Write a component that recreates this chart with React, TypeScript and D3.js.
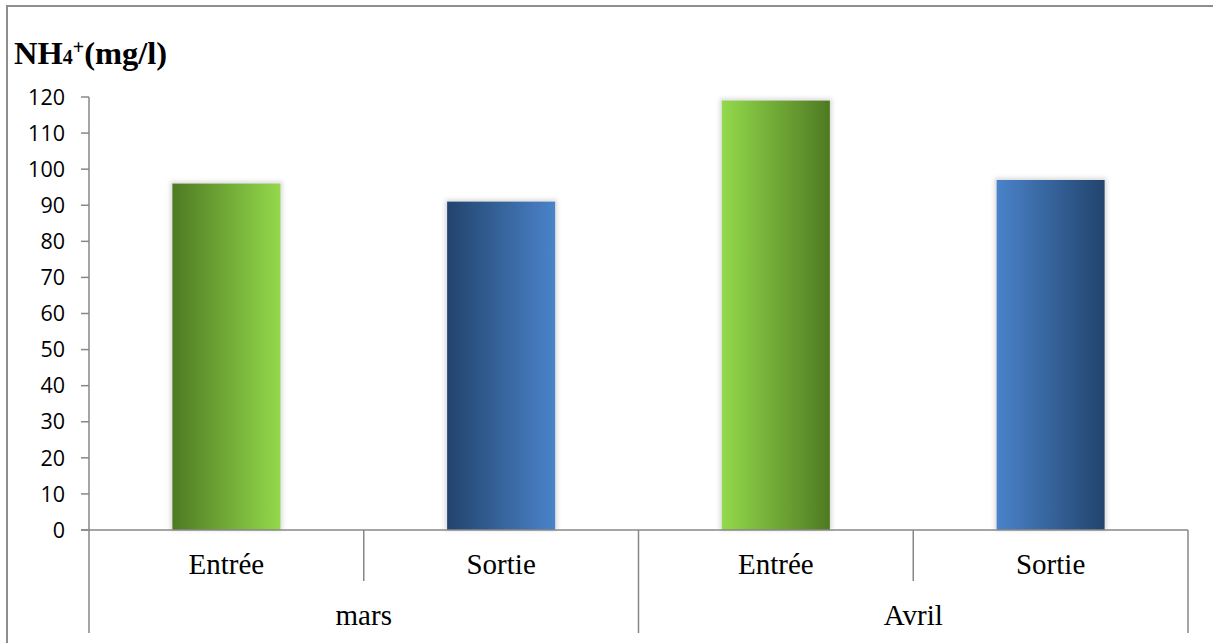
import React from "react";
import * as d3 from "d3";

const months = ["mars", "Avril"];
const seriesNames = ["Entrée", "Sortie"];
const entreeValues = [96, 119];
const sortieValues = [91, 97];
const yTicks = [0, 10, 20, 30, 40, 50, 60, 70, 80, 90, 100, 110, 120];

const W = 1213;
const H = 643;
const X0 = 89;
const X1 = 1188;
const Y0 = 530;
const Y1 = 97;
const AXIS = "#878787";

export default function App() {
  const cats = months.flatMap((m) => seriesNames.map((s) => `${m}|${s}`));
  const rows = months.flatMap((m, i) => [
    { key: `${m}|${seriesNames[0]}`, month: m, mi: i, series: 0, value: entreeValues[i] },
    { key: `${m}|${seriesNames[1]}`, month: m, mi: i, series: 1, value: sortieValues[i] },
  ]);
  const xBand = d3.scaleBand<string>().domain(cats).range([X0, X1]).paddingInner(0.607).paddingOuter(0.3035);
  const xCell = d3.scaleBand<string>().domain(cats).range([X0, X1]).padding(0);
  const xMonth = d3.scaleBand<string>().domain(months).range([X0, X1]).padding(0);
  const y = d3.scaleLinear().domain([0, 120]).range([Y0, Y1]);

  const gradId = (series: number, mi: number) => `g-${series}-${mi}`;
  const colors = [
    { dark: "#4e7a22", light: "#93d94b" },
    { dark: "#22446d", light: "#4a83ca" },
  ];

  return (
    <svg width={W} height={H} style={{ position: "absolute", left: 0, top: 0, background: "#fff" }}>
      <defs>
        {rows.map((r) => {
          const c = colors[r.series];
          const reverse = r.mi === 1;
          return (
            <linearGradient key={r.key} id={gradId(r.series, r.mi)} x1="0" x2="1" y1="0" y2="0">
              <stop offset="0%" stopColor={reverse ? c.light : c.dark} />
              <stop offset="100%" stopColor={reverse ? c.dark : c.light} />
            </linearGradient>
          );
        })}
        <filter id="glow" x="-20%" y="-20%" width="140%" height="140%">
          <feGaussianBlur stdDeviation="2.2" />
        </filter>
      </defs>
      <rect x={7} y={6} width={W + 20} height={H + 20} fill="none" stroke="#8e8e8e" strokeWidth={2} />

      <text x={14} y={64} fontFamily="'Liberation Serif', 'Times New Roman', serif" fontWeight="bold" fontSize={32.5} fill="#000">
        <tspan>NH</tspan>
        <tspan fontSize={20}>4</tspan>
        <tspan fontSize={20} dy={-10}>+</tspan>
        <tspan dy={10}>(mg/l)</tspan>
      </text>

      {/* bars */}
      {rows.map((r) => {
        const bx = xBand(r.key)!;
        const bw = xBand.bandwidth();
        const top = y(r.value);
        return (
          <g key={r.key}>
            <rect x={bx - 2} y={top - 2} width={bw + 4} height={Y0 - top + 2} fill="#b9b9b9" opacity={0.55} filter="url(#glow)" />
            <rect x={bx} y={top} width={bw} height={Y0 - top} fill={`url(#${gradId(r.series, r.mi)})`} />
          </g>
        );
      })}

      {/* y axis */}
      <line x1={X0} x2={X0} y1={Y1} y2={Y0} stroke={AXIS} strokeWidth={1.5} />
      {yTicks.map((t) => (
        <g key={t}>
          <line x1={X0 - 8} x2={X0} y1={y(t)} y2={y(t)} stroke={AXIS} strokeWidth={1.5} />
          <text x={65} y={y(t)} dy="0.36em" textAnchor="end" fontFamily="'Open Sans', sans-serif" fontSize={21.5} fill="#000">
            {t}
          </text>
        </g>
      ))}

      {/* x axis */}
      <line x1={X0 - 8} x2={X1} y1={Y0} y2={Y0} stroke={AXIS} strokeWidth={1.5} />
      {cats.map((c, i) => {
        const xs = xCell(c)!;
        const isMonthStart = i % seriesNames.length === 0;
        return (
          <line key={`sep-${c}`} x1={xs} x2={xs} y1={Y0} y2={isMonthStart ? 633 : 581} stroke={AXIS} strokeWidth={1.5} />
        );
      })}
      <line x1={X1} x2={X1} y1={Y0} y2={633} stroke={AXIS} strokeWidth={1.5} />

      {rows.map((r) => (
        <text
          key={`lbl-${r.key}`}
          x={xCell(r.key)! + xCell.bandwidth() / 2}
          y={574}
          textAnchor="middle"
          fontFamily="'Liberation Serif', 'Times New Roman', serif"
          fontSize={29}
          fill="#000"
        >
          {seriesNames[r.series]}
        </text>
      ))}
      {months.map((m) => (
        <text
          key={`m-${m}`}
          x={xMonth(m)! + xMonth.bandwidth() / 2}
          y={625}
          textAnchor="middle"
          fontFamily="'Liberation Serif', 'Times New Roman', serif"
          fontSize={29}
          fill="#000"
        >
          {m}
        </text>
      ))}
    </svg>
  );
}
